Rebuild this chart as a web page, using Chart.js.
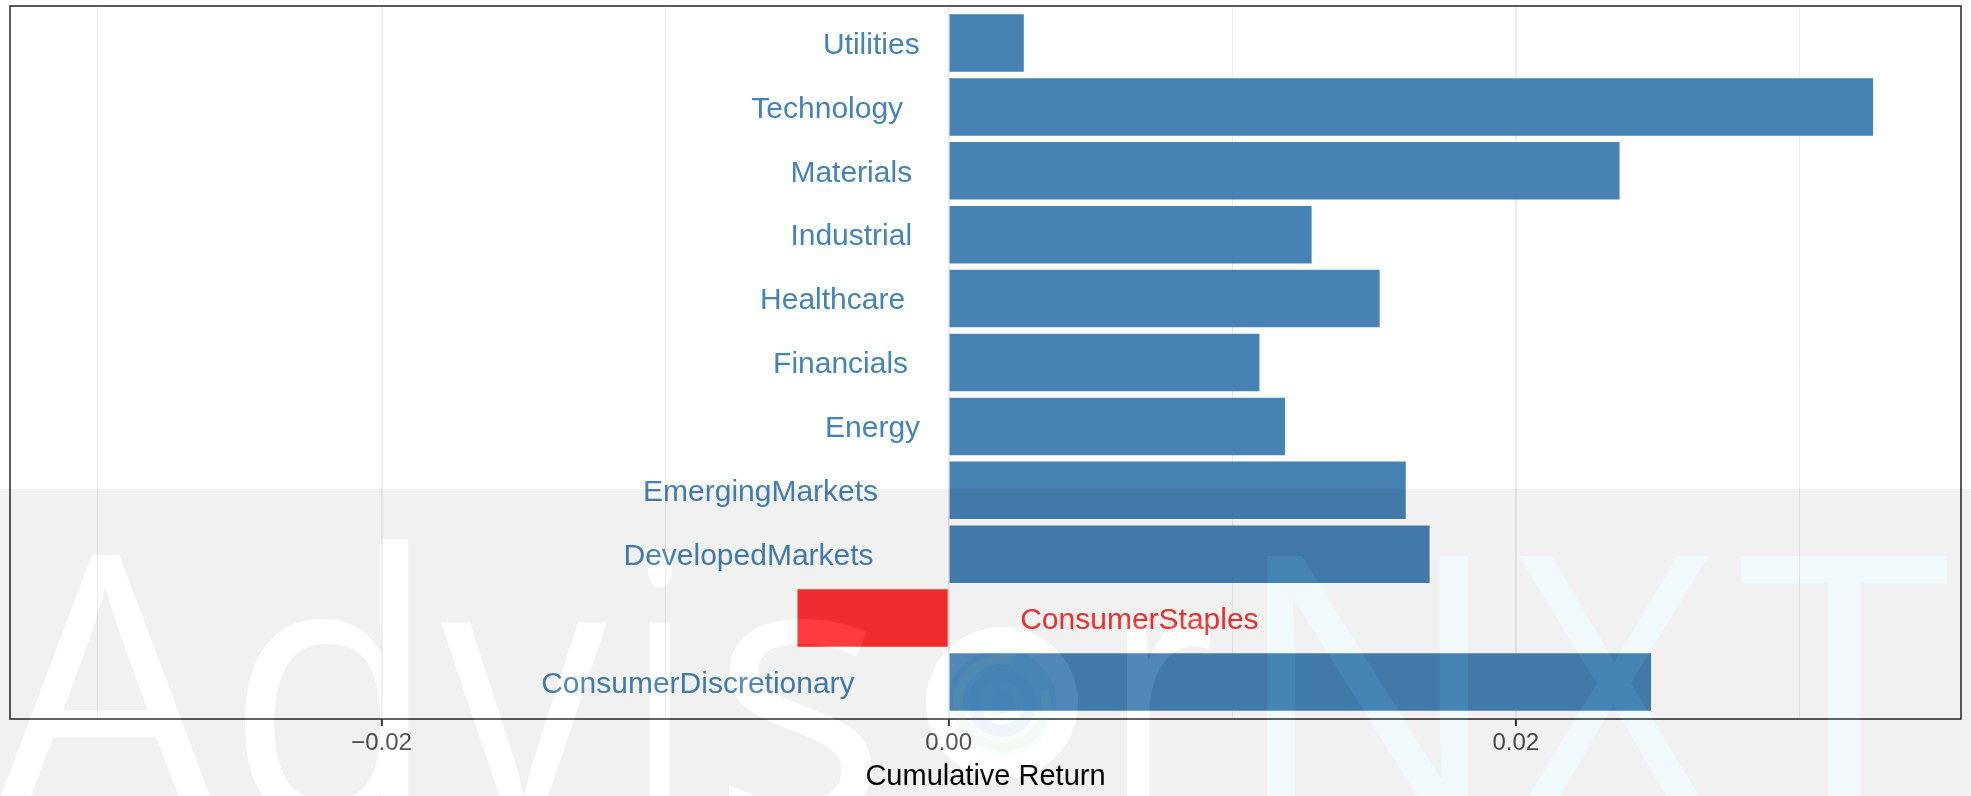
<!DOCTYPE html>
<html>
<head>
<meta charset="utf-8">
<script src="https://cdn.jsdelivr.net/npm/chart.js@4.4.1/dist/chart.umd.min.js"></script>
<style>
  html, body { margin: 0; padding: 0; background: #fff; }
  #wrap { width: 1971px; height: 796px; position: relative; }
</style>
</head>
<body>
<div id="wrap"><canvas id="returnsChart"></canvas></div>
<script>
(() => {

    // sectors from bottom to top
    const sectors = ['ConsumerDiscretionary', 'ConsumerStaples', 'DevelopedMarkets', 'EmergingMarkets',
        'Energy', 'Financials', 'Healthcare', 'Industrial', 'Materials', 'Technology', 'Utilities'];
    const cumulativeReturns = [0.02477, -0.00533, 0.01696, 0.01612, 0.01186, 0.01096,
        0.0152, 0.0128, 0.02366, 0.0326, 0.00265];

    const gridValues = [-0.03, -0.02, -0.01, 0, 0.01, 0.02, 0.03];
    const tickValues = [-0.02, 0, 0.02];
    const tickLabels = ['\u22120.02', '0.00', '0.02'];
    const axisTitle = 'Cumulative Return';

    const POS = '#4682b4';
    const NEG = '#ff3030';
    const LABEL_FONT = '"Liberation Sans", Arial, sans-serif';

    const isMajor = v => tickValues.some(t => Math.abs(t - v) < 1e-9);

    // etiquetas al lado de cada barra + borde del panel
    const barLabels = {
        id: 'barLabels',
        afterDatasetsDraw(chart) {
            const { ctx, scales: { x } } = chart;
            const zero = x.getPixelForValue(0);
            const meta = chart.getDatasetMeta(0);
            ctx.save();
            ctx.font = '30px ' + LABEL_FONT;
            ctx.textBaseline = 'alphabetic';
            meta.data.forEach((bar, i) => {
                const v = cumulativeReturns[i];
                const txt = sectors[i];
                const w = ctx.measureText(txt).width;
                const y = bar.y + 10.7;
                if (v >= 0) {
                    ctx.fillStyle = POS;
                    ctx.textAlign = 'right';
                    ctx.fillText(txt, zero - 0.3 * w, y);
                } else {
                    ctx.fillStyle = NEG;
                    ctx.textAlign = 'left';
                    ctx.fillText(txt, zero + 0.3 * w, y);
                }
            });
            const a = chart.chartArea;
            ctx.strokeStyle = '#333333';
            ctx.lineWidth = 1.6;
            ctx.strokeRect(a.left, a.top, a.right - a.left, a.bottom - a.top);
            ctx.restore();
        }
    };

    // marca de agua "AdvisorNXT"
    const WM = {
        bandTop: 489,
        baseline: 822,
        capHeight: 272,
        glyphs: [
            { ch: 'A', l: -9, r: 223, cyan: false },
            { ch: 'd', l: 242, r: 410, cyan: false },
            { ch: 'v', l: 441, r: 607, cyan: false },
            { ch: 'i', l: 648, r: 675, cyan: false },
            { ch: 's', l: 728, r: 873, cyan: false },
            { ch: 'r', l: 1125, r: 1215, cyan: false },
            { ch: 'N', l: 1266, r: 1468, cyan: true },
            { ch: 'X', l: 1512, r: 1716, cyan: true },
            { ch: 'T', l: 1738, r: 1949, cyan: true }
        ],
        logo: { x: 1002, y: 703, r: 76 }
    };

    function drawMark(c, light, cyan, cut) {
        c.save();
        c.font = '400 100px "Open Sans", sans-serif';
        const capAt100 = c.measureText('N').actualBoundingBoxAscent || 71;
        const size = 100 * WM.capHeight / capAt100;
        c.font = `400 ${size}px "Open Sans", sans-serif`;
        c.textAlign = 'left';
        c.textBaseline = 'alphabetic';
        WM.glyphs.forEach(g => {
            const m = c.measureText(g.ch);
            const inkW = m.actualBoundingBoxLeft + m.actualBoundingBoxRight;
            const sx = (g.r - g.l) / inkW;
            c.save();
            c.translate(g.l, WM.baseline);
            c.scale(sx, 1);
            c.fillStyle = g.cyan ? cyan : light;
            c.fillText(g.ch, m.actualBoundingBoxLeft, 0);
            c.restore();
        });
        const L = WM.logo;
        if (cut) {
            c.beginPath();
            c.arc(L.x, L.y, L.r, 0, Math.PI * 2);
            c.fill();
        } else {
            c.lineWidth = 22;
            c.strokeStyle = light;
            c.beginPath(); c.arc(L.x, L.y, L.r - 11, 0, Math.PI * 2); c.stroke();
            c.fillStyle = 'rgba(120,200,230,0.04)';
            c.beginPath(); c.arc(L.x, L.y, L.r - 22, 0, Math.PI * 2); c.fill();
            c.lineWidth = 10;
            c.strokeStyle = 'rgba(170,210,110,0.07)';
            c.beginPath(); c.arc(L.x, L.y, 44, -0.3, Math.PI * 1.6); c.stroke();
            c.lineWidth = 12;
            c.strokeStyle = 'rgba(40,110,180,0.06)';
            c.beginPath(); c.arc(L.x, L.y, 28, 0, Math.PI * 2); c.stroke();
            c.fillStyle = 'rgba(40,110,180,0.06)';
            c.beginPath(); c.arc(L.x, L.y, 11, 0, Math.PI * 2); c.fill();
        }
        c.restore();
    }

    const watermark = {
        id: 'watermark',
        afterDraw(chart) {
            const { ctx, width, height } = chart;
            const off = document.createElement('canvas');
            off.width = width;
            off.height = height;
            const o = off.getContext('2d');
            o.fillStyle = '#000';
            o.fillRect(0, WM.bandTop, width, height - WM.bandTop);
            o.globalCompositeOperation = 'destination-out';
            drawMark(o, '#000', '#000', true);
            ctx.save();
            ctx.globalAlpha = 0.055;
            ctx.drawImage(off, 0, 0, width, height);
            ctx.globalAlpha = 1;
            drawMark(ctx, 'rgba(255,255,255,0.06)', 'rgba(67,180,217,0.08)', false);
            ctx.restore();
        }
    };

    const ctx = document.getElementById('returnsChart').getContext('2d');
    new Chart(ctx, {
        type: 'bar',
        data: {
            labels: sectors,
            datasets: [{
                label: axisTitle,
                data: cumulativeReturns.map((v, i) => ({ x: v, y: i })),
                backgroundColor: cumulativeReturns.map(v => v < 0 ? NEG : POS),
                borderWidth: 0,
                barPercentage: 0.9,
                categoryPercentage: 1.0
            }]
        },
        options: {
            indexAxis: 'y',
            responsive: true,
            maintainAspectRatio: false,
            animation: false,
            layout: { padding: { left: 10, right: 10, top: 6, bottom: 0 } },
            plugins: {
                legend: { display: false },
                tooltip: { enabled: false }
            },
            scales: {
                x: {
                    type: 'linear',
                    min: -0.0331,
                    max: 0.0357,
                    afterBuildTicks: s => { s.ticks = gridValues.map(v => ({ value: v })); },
                    afterFit: s => { s.height = 77; },
                    border: { display: false },
                    grid: {
                        color: c => '#ebebeb',
                        lineWidth: c => isMajor(c.tick.value) ? 1.8 : 1,
                        tickColor: c => isMajor(c.tick.value) ? '#333333' : 'rgba(0,0,0,0)',
                        tickLength: 7,
                        tickWidth: 2
                    },
                    ticks: {
                        autoSkip: false,
                        maxRotation: 0,
                        padding: 3,
                        color: '#4d4d4d',
                        font: { family: LABEL_FONT, size: 24 },
                        callback: v => {
                            const k = tickValues.findIndex(t => Math.abs(t - v) < 1e-9);
                            return k >= 0 ? tickLabels[k] : '';
                        }
                    },
                    title: {
                        display: true,
                        text: axisTitle,
                        color: '#000000',
                        font: { family: LABEL_FONT, size: 29 },
                        padding: { top: 0, bottom: 2 }
                    }
                },
                y: {
                    type: 'linear',
                    display: false,
                    offset: false,
                    grid: { offset: false },
                    min: -0.58,
                    max: 10.58,
                    afterBuildTicks: s => { s.ticks = sectors.map((c, i) => ({ value: i })); }
                }
            }
        },
        plugins: [barLabels, watermark]
    });
})();
</script>
</body>
</html>
